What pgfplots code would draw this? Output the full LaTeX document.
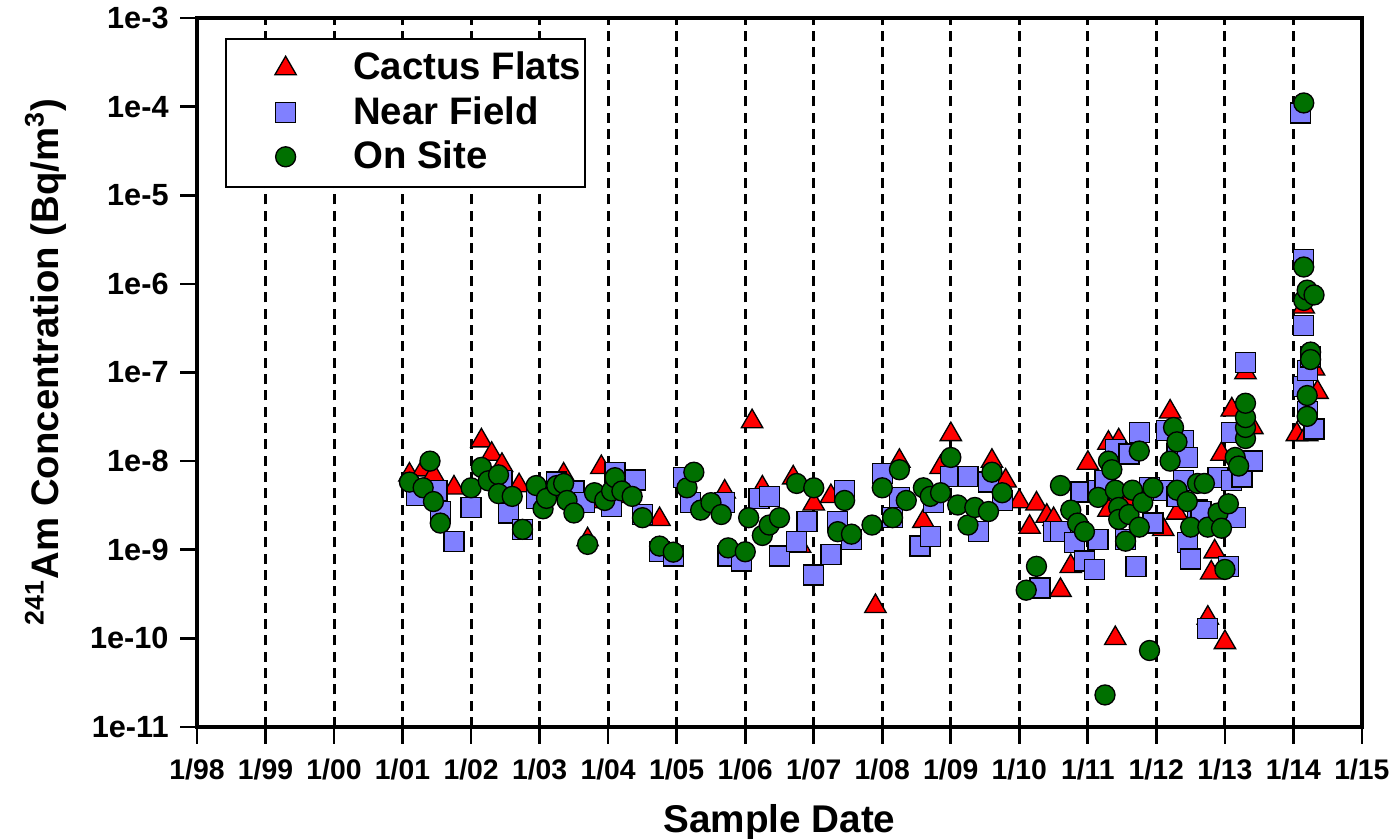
\documentclass[border=0pt]{standalone}
\usepackage{fontspec}
\setmainfont{Liberation Sans}
\usepackage{pgfplots}
\pgfplotsset{compat=1.18}
\definecolor{tri}{RGB}{255,0,0}
\definecolor{sq}{RGB}{128,128,255}
\definecolor{circ}{RGB}{0,112,0}
\begin{document}
\begin{tikzpicture}
\path[use as bounding box] (-59.1pt,-33.6pt) rectangle (359.4pt,218.1pt);
\begin{axis}[
  scale only axis, width=349.5pt, height=212.7pt,
  xmin=1998, xmax=2015, ymode=log, ymin=1e-11, ymax=1e-3,
  xtick={1998,1999,...,2015},
  xticklabels={1/98,1/99,1/00,1/01,1/02,1/03,1/04,1/05,1/06,1/07,1/08,1/09,1/10,1/11,1/12,1/13,1/14,1/15},
  ytick={1e-11,1e-10,1e-9,1e-8,1e-7,1e-6,1e-5,1e-4,1e-3},
  yticklabels={1e-11,1e-10,1e-9,1e-8,1e-7,1e-6,1e-5,1e-4,1e-3},
  yminorticks=false, xminorticks=false,
  tick align=outside, xtick pos=bottom, ytick pos=left,
  major tick length=5pt,
  tick style={black, line width=0.8pt},
  axis line style={line width=1pt},
  xmajorgrids, major grid style={black, dashed, line width=0.9pt, dash pattern=on 3pt off 1.9pt},
  xticklabel style={font=\bfseries\fontsize{8.5}{10}\selectfont},
  yticklabel style={font=\bfseries\fontsize{9.2}{11}\selectfont, xshift=0pt},
  xticklabel shift=1pt,
  xlabel={Sample Date},
  ylabel={\textsuperscript{241}Am Concentration (Bq/m\textsuperscript{3})},
  xlabel style={font=\bfseries\fontsize{11.6}{13}\selectfont, at={(axis description cs:0.5,-0.135)}, anchor=center},
  ylabel style={font=\bfseries\fontsize{11.5}{13}\selectfont, at={(axis description cs:-0.13,0.515)}, rotate=0, anchor=center},
  legend image code/.code={\path (0pt,0pt) (36.6pt,0pt); \draw[mark repeat=2,mark phase=2,#1] plot coordinates {(0pt,0pt) (17.6pt,0pt) (35.2pt,0pt)};},
  legend style={at={(0.024,0.972)}, anchor=north west, draw=black, line width=0.6pt,
    font=\bfseries\fontsize{11.5}{13}\selectfont, inner xsep=0pt, inner ysep=2pt,
    row sep=-0.6pt, cells={anchor=west}, nodes={inner xsep=1pt, inner ysep=2pt}},
]
\addplot[only marks, mark=triangle*, mark size=3.7pt, mark options={fill=tri, draw=black, line width=0.4pt}] coordinates {
(2001.1,7e-9) (2001.3,8e-9) (2001.45,7e-9) (2001.75,5e-9)
(2002.15,1.7e-8) (2002.3,1.2e-8) (2002.45,9e-9) (2002.55,5e-9) (2002.7,5.3e-9)
(2003.35,7e-9) (2003.7,1.3e-9) (2003.7,3.5e-9) (2003.9,8.5e-9)
(2004.2,4e-9) (2004.75,2.2e-9) (2005.7,4.5e-9)
(2006.1,2.8e-8) (2006.25,5e-9) (2006.7,6.5e-9) (2006.8,1.1e-9)
(2007.0,3.3e-9) (2007.25,4e-9) (2007.9,2.3e-10)
(2008.25,1e-8) (2008.6,2.1e-9) (2008.85,8.5e-9)
(2009.0,2e-8) (2009.6,1e-8) (2009.8,6e-9)
(2010.0,3.5e-9) (2010.15,1.8e-9) (2010.25,3.3e-9) (2010.4,2.4e-9) (2010.5,2.2e-9) (2010.6,3.5e-10) (2010.75,6.5e-10)
(2011.0,9.5e-9) (2011.3,1.6e-8) (2011.3,2.8e-9) (2011.4,1e-10) (2011.45,1.7e-8) (2011.6,3.6e-9)
(2012.1,1.7e-9) (2012.2,3.6e-8) (2012.3,2.6e-9) (2012.75,1.7e-10) (2012.8,5.5e-10) (2012.85,9.5e-10) (2012.95,1.2e-8)
(2013.0,9e-11) (2013.1,3.8e-8) (2013.3,1e-7) (2013.4,2.4e-8)
(2014.05,2e-8) (2014.15,5.5e-7) (2014.2,2e-8) (2014.3,1.1e-7) (2014.35,6e-8)
};
\addlegendentry{Cactus Flats}
\addplot[only marks, mark=square*, mark size=3pt, mark options={fill=sq, draw=black, line width=0.4pt}] coordinates {
(2001.2,4.1e-9) (2001.5,4.7e-9) (2001.55,2.7e-9) (2001.75,1.25e-9)
(2002.0,3e-9) (2002.45,6e-9) (2002.55,2.6e-9) (2002.75,1.7e-9) (2002.95,3.8e-9)
(2003.25,5.8e-9) (2003.5,4.6e-9) (2003.65,3.4e-9)
(2004.05,3.1e-9) (2004.1,7.5e-9) (2004.4,6.1e-9) (2004.5,2.5e-9) (2004.75,9.5e-10) (2004.95,8.5e-10)
(2005.1,6.5e-9) (2005.2,3.4e-9) (2005.7,3.4e-9) (2005.75,8.5e-10) (2005.95,7.5e-10)
(2006.2,3.8e-9) (2006.35,4e-9) (2006.5,8.5e-10) (2006.75,1.25e-9) (2006.9,2.1e-9)
(2007.0,5.2e-10) (2007.25,8.8e-10) (2007.35,2.1e-9) (2007.45,4.7e-9) (2007.55,1.3e-9)
(2008.0,7.3e-9) (2008.15,2.3e-9) (2008.25,3.9e-9) (2008.55,1.1e-9) (2008.7,1.4e-9) (2008.75,3.4e-9)
(2009.0,6.7e-9) (2009.25,6.7e-9) (2009.4,1.6e-9) (2009.55,5.8e-9) (2009.75,3.6e-9)
(2010.3,3.7e-10) (2010.5,1.6e-9) (2010.6,1.6e-9) (2010.8,1.2e-9) (2010.9,4.5e-9) (2010.95,7.5e-10)
(2011.1,6e-10) (2011.15,1.3e-9) (2011.15,4.7e-9) (2011.25,6e-9) (2011.4,1.35e-8) (2011.55,1.3e-9)
(2011.6,1.2e-8) (2011.7,6.5e-10) (2011.75,2.1e-8) (2011.9,5e-9) (2011.95,2e-9)
(2012.1,4.7e-9) (2012.15,2.2e-8) (2012.3,1.2e-8) (2012.3,4e-9) (2012.4,1.7e-8) (2012.4,6e-9)
(2012.45,1.2e-9) (2012.45,1.1e-8) (2012.5,7.9e-10) (2012.6,2.8e-9) (2012.65,2.7e-9) (2012.75,1.3e-10) (2012.9,6.5e-9)
(2013.05,6.5e-10) (2013.1,6e-9) (2013.1,2.1e-8) (2013.15,2.3e-9) (2013.25,6.6e-9) (2013.3,1.3e-7) (2013.4,1e-8)
(2014.1,8.5e-5) (2014.15,1.9e-6) (2014.15,3.4e-7) (2014.15,6.9e-8) (2014.2,1.05e-7) (2014.2,3.6e-8) (2014.25,1.5e-7) (2014.3,2.3e-8)
};
\addlegendentry{Near Field}
\addplot[only marks, mark=*, mark size=3pt, mark options={fill=circ, draw=black, line width=0.4pt}] coordinates {
(2001.1,5.8e-9) (2001.3,5e-9) (2001.4,1e-8) (2001.45,3.5e-9) (2001.55,2e-9)
(2002.0,5e-9) (2002.15,8.5e-9) (2002.25,6e-9) (2002.4,7e-9) (2002.4,4.3e-9) (2002.6,4e-9) (2002.75,1.7e-9) (2002.95,5.3e-9)
(2003.05,2.9e-9) (2003.1,3.8e-9) (2003.25,5.3e-9) (2003.35,5.6e-9) (2003.4,3.6e-9) (2003.5,2.6e-9) (2003.7,1.15e-9) (2003.8,4.4e-9) (2003.95,3.6e-9)
(2004.05,4.6e-9) (2004.1,6.5e-9) (2004.2,4.6e-9) (2004.35,4e-9) (2004.5,2.3e-9) (2004.75,1.1e-9) (2004.95,9.4e-10)
(2005.15,5e-9) (2005.25,7.5e-9) (2005.35,2.8e-9) (2005.5,3.4e-9) (2005.65,2.5e-9) (2005.75,1.05e-9)
(2006.0,9.5e-10) (2006.05,2.3e-9) (2006.25,1.45e-9) (2006.35,1.9e-9) (2006.5,2.3e-9) (2006.75,5.6e-9)
(2007.0,5e-9) (2007.35,1.6e-9) (2007.45,3.6e-9) (2007.55,1.5e-9) (2007.85,1.9e-9)
(2008.0,5e-9) (2008.15,2.3e-9) (2008.25,8e-9) (2008.35,3.6e-9) (2008.6,5e-9) (2008.7,4e-9) (2008.85,4.4e-9)
(2009.0,1.1e-8) (2009.1,3.2e-9) (2009.25,1.9e-9) (2009.35,3e-9) (2009.55,2.7e-9) (2009.6,7.5e-9) (2009.75,4.4e-9)
(2010.1,3.5e-10) (2010.25,6.5e-10) (2010.6,5.3e-9) (2010.75,2.8e-9) (2010.85,2e-9) (2010.95,1.6e-9)
(2011.15,3.9e-9) (2011.25,2.3e-11) (2011.3,1e-8) (2011.35,8e-9) (2011.4,4.7e-9) (2011.45,3e-9) (2011.45,2.2e-9)
(2011.55,1.25e-9) (2011.6,2.5e-9) (2011.65,4.7e-9) (2011.75,1.8e-9) (2011.75,1.3e-8) (2011.8,3.4e-9) (2011.9,7.3e-11) (2011.95,5e-9)
(2012.2,1e-8) (2012.25,2.4e-8) (2012.3,1.65e-8) (2012.3,4.7e-9) (2012.45,3.5e-9) (2012.5,1.8e-9) (2012.6,5.6e-9)
(2012.7,5.6e-9) (2012.75,1.8e-9) (2012.9,2.6e-9) (2012.95,1.75e-9)
(2013.0,6e-10) (2013.05,3.3e-9) (2013.15,1.1e-8) (2013.2,8.8e-9) (2013.3,1.8e-8) (2013.3,2.4e-8) (2013.3,3.1e-8) (2013.3,4.5e-8)
(2014.15,1.1e-4) (2014.15,1.55e-6) (2014.15,6.5e-7) (2014.2,8.5e-7) (2014.3,7.5e-7) (2014.25,1.7e-7) (2014.25,1.4e-7) (2014.2,5.5e-8) (2014.2,3.2e-8)
};
\addlegendentry{On Site}
\end{axis}
\end{tikzpicture}
\end{document}
